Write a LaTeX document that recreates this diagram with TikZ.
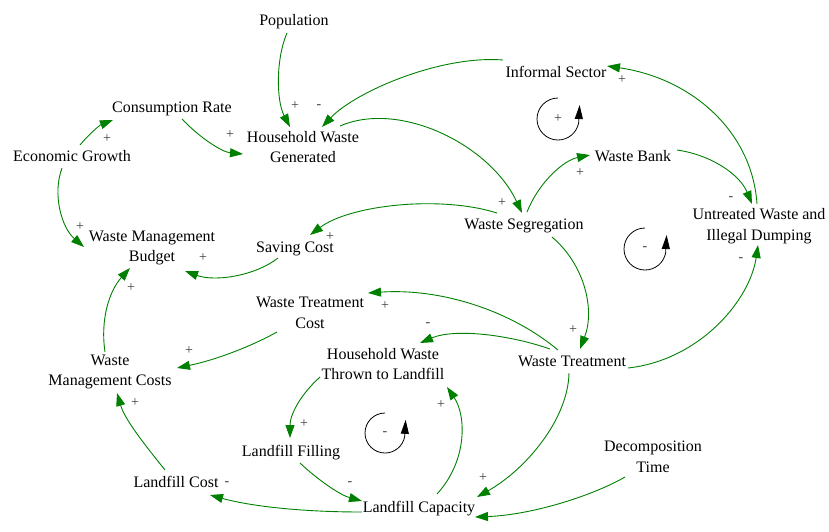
\documentclass[tikz,border=0pt]{standalone}
\usepackage{fontspec}
\setmainfont{Liberation Serif}
\usetikzlibrary{arrows.meta,calc}
\definecolor{lg}{RGB}{0,128,0}
\definecolor{sg}{RGB}{60,60,60}
\begin{document}
\begin{tikzpicture}[x=1pt,y=-1pt,
 v/.style={font=\fontsize{16}{20.5}\selectfont, align=center, inner sep=0pt, text=black},
 sv/.style={v, text height=11pt, text depth=1pt},
 link/.style={draw=lg, line width=0.9pt, -{Triangle[length=13pt,width=9pt]}},
 pol/.style={font=\fontsize{14}{14}\selectfont, text=sg, inner sep=0pt},
 loopc/.style={draw=black, line width=0.8pt, -{Triangle[length=14pt,width=8pt]}}]
\useasboundingbox (0,0) rectangle (829,531);
% nodes
\node[sv] (pop) at (294,20) {Population};
\node[sv] (cr) at (172,107) {Consumption Rate};
\node[sv] (eg) at (72,156) {Economic Growth};
\node[v] (hwg) at (303,147) {Household Waste\\Generated};
\node[sv] (is) at (556,72) {Informal Sector};
\node[sv] (wb) at (633,156) {Waste Bank};
\node[sv] (ws) at (524,224) {Waste Segregation};
\node[v] (uw) at (759,226) {Untreated Waste and\\Illegal Dumping};
\node[v] (wmb) at (152,248) {Waste Management\\Budget};
\node[sv] (sc) at (295,247) {Saving Cost};
\node[v] (wtc) at (310,313) {Waste Treatment\\Cost};
\node[v] (wmc) at (110,372) {Waste\\Management Costs};
\node[v] (hwtl) at (383,364) {Household Waste\\Thrown to Landfill};
\node[sv] (wt) at (572,361) {Waste Treatment};
\node[sv] (lf) at (291,451) {Landfill Filling};
\node[sv] (lc) at (176,482) {Landfill Cost};
\node[sv] (lcap) at (419,507) {Landfill Capacity};
\node[v] (dt) at (653,457) {Decomposition\\Time};
% links
\draw[link] ($(pop)+(-7,13)$) .. controls (276,58) and (276,100) .. ($(hwg)+(-13,-20)$);
\draw[link] ($(is)+(-53,-12)$) .. controls (440,55) and (355,92) .. ($(hwg)+(19,-20)$);
\draw[link] ($(cr)+(10,12)$) .. controls (200,138) and (222,152) .. ($(hwg)+(-60,7)$);
\draw[link] ($(eg)+(8,-11)$) .. controls (90,133) and (100,125) .. ($(cr)+(-59,13)$);
\draw[link] ($(eg)+(-10,12)$) .. controls (52,195) and (62,228) .. ($(wmb)+(-68,-1)$);
\draw[link] ($(hwg)+(37,-21)$) .. controls (400,100) and (490,145) .. ($(ws)+(-2,-11)$);
\draw[link] ($(ws)+(3,-12)$) .. controls (540,180) and (565,160) .. ($(wb)+(-43,-1)$);
\draw[link] ($(wb)+(44,-6)$) .. controls (712,155) and (740,175) .. ($(uw)+(-7,-22)$);
\draw[link] ($(uw)+(-2,-22)$) .. controls (752,130) and (690,78) .. ($(is)+(51,-6)$);
\draw[link] ($(ws)+(-27,-11)$) .. controls (440,195) and (350,205) .. ($(sc)+(15,-12)$);
\draw[link] ($(sc)+(-17,11)$) .. controls (255,276) and (215,282) .. ($(wmb)+(33,23)$);
\draw[link] ($(ws)+(28,13)$) .. controls (585,265) and (595,310) .. ($(wt)+(8,-12)$);
\draw[link] ($(wt)+(-14,-11)$) .. controls (510,310) and (440,288) .. ($(wtc)+(58,-20)$);
\draw[link] ($(wt)+(-22,-12)$) .. controls (510,335) and (455,328) .. ($(hwtl)+(37,-21)$);
\draw[link] ($(wt)+(56,7)$) .. controls (700,360) and (750,300) .. ($(uw)+(-1,19)$);
\draw[link] ($(wt)+(-3,12)$) .. controls (568,420) and (525,470) .. ($(lcap)+(58,-10)$);
\draw[link] ($(wtc)+(-33,19)$) .. controls (250,347) and (215,360) .. ($(wmc)+(67,-4)$);
\draw[link] ($(wmc)+(-5,-20)$) .. controls (100,318) and (110,290) .. ($(wmb)+(-22,20)$);
\draw[link] ($(lc)+(-11,-12)$) .. controls (145,445) and (125,420) .. ($(wmc)+(7,21)$);
\draw[link] ($(hwtl)+(-63,13)$) .. controls (300,395) and (290,415) .. ($(lf)+(-1,-13)$);
\draw[link] ($(lf)+(9,12)$) .. controls (318,480) and (340,495) .. ($(lcap)+(-57,-6)$);
\draw[link] ($(lcap)+(-57,5)$) .. controls (300,512) and (250,506) .. ($(lc)+(34,13)$);
\draw[link] ($(lcap)+(18,-13)$) .. controls (468,460) and (466,415) .. ($(hwtl)+(64,23)$);
\draw[link] ($(dt)+(-28,20)$) .. controls (590,497) and (530,515) .. ($(lcap)+(56,10)$);
% polarities
\node[pol] (p1) at (295,106) {+};
\node[pol] (p2) at (319,107) {-};
\node[pol] (p3) at (230,135) {+};
\node[pol] (p4) at (107,139) {+};
\node[pol] (p5) at (80,227) {+};
\node[pol] (p6) at (502,203) {+};
\node[pol] (p7) at (580,173) {+};
\node[pol] (p8) at (731,199) {-};
\node[pol] (p9) at (622,80) {+};
\node[pol] (p10) at (330,237) {+};
\node[pol] (p11) at (203,258) {+};
\node[pol] (p12) at (573,330) {+};
\node[pol] (p13) at (385,306) {+};
\node[pol] (p14) at (428,325) {-};
\node[pol] (p15) at (741,260) {-};
\node[pol] (p16) at (483,478) {+};
\node[pol] (p17) at (189,351) {+};
\node[pol] (p18) at (131,288) {+};
\node[pol] (p19) at (135,403) {+};
\node[pol] (p20) at (304,424) {+};
\node[pol] (p21) at (350,484) {-};
\node[pol] (p22) at (227,484) {-};
\node[pol] (p23) at (441,405) {+};
% loops
\draw[loopc] (558,98) arc[start angle=270, end angle=11, radius=21] -- ++(1,-18);
\node[pol] (r1) at (558,119) {+};
\draw[loopc] (645,228) arc[start angle=270, end angle=11, radius=21] -- ++(1,-18);
\node[pol] (r2) at (645,249) {-};
\draw[loopc] (385,413) arc[start angle=270, end angle=11, radius=20] -- ++(1,-17);
\node[pol] (r3) at (385,434) {-};
\end{tikzpicture}
\end{document}
